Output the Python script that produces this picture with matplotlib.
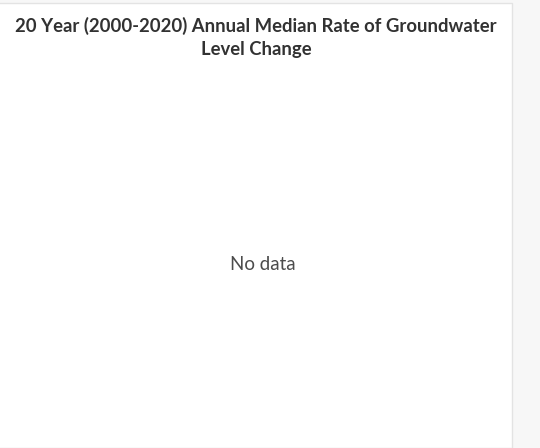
import matplotlib.pyplot as plt
from matplotlib.patches import Rectangle

# chart data (the source chart has no records)
years = []
median_rate = []

title = "20 Year (2000-2020) Annual Median Rate of Groundwater\nLevel Change"
empty_msg = "No data"

W, H = 540, 448
fig = plt.figure(figsize=(W / 100, H / 100), dpi=100)
fig.patch.set_facecolor("#f7f7f7")

# white card with light border
card = Rectangle((-2 / W, 0), 514 / W, (H - 3) / H, transform=fig.transFigure,
                 facecolor="white", edgecolor="#e3e3e3", linewidth=1.0)
fig.patches.append(card)

ax = fig.add_axes([40 / W, 40 / H, 440 / W, 320 / H])
ax.bar(years, median_rate, color="#5b8fd0")
ax.set_axis_off()

fig.text(256 / W, 1 - 17 / H, title, ha="center", va="top",
         fontsize=13.3, fontweight="bold", color="#323232",
         family="Lato", linespacing=1.4)

if len(median_rate) == 0:
    fig.text(263 / W, 1 - 264 / H, empty_msg, ha="center", va="center",
             fontsize=13.5, color="#4c4c4c", family="Lato")

fig.savefig("out.png", dpi=100, facecolor=fig.get_facecolor())
